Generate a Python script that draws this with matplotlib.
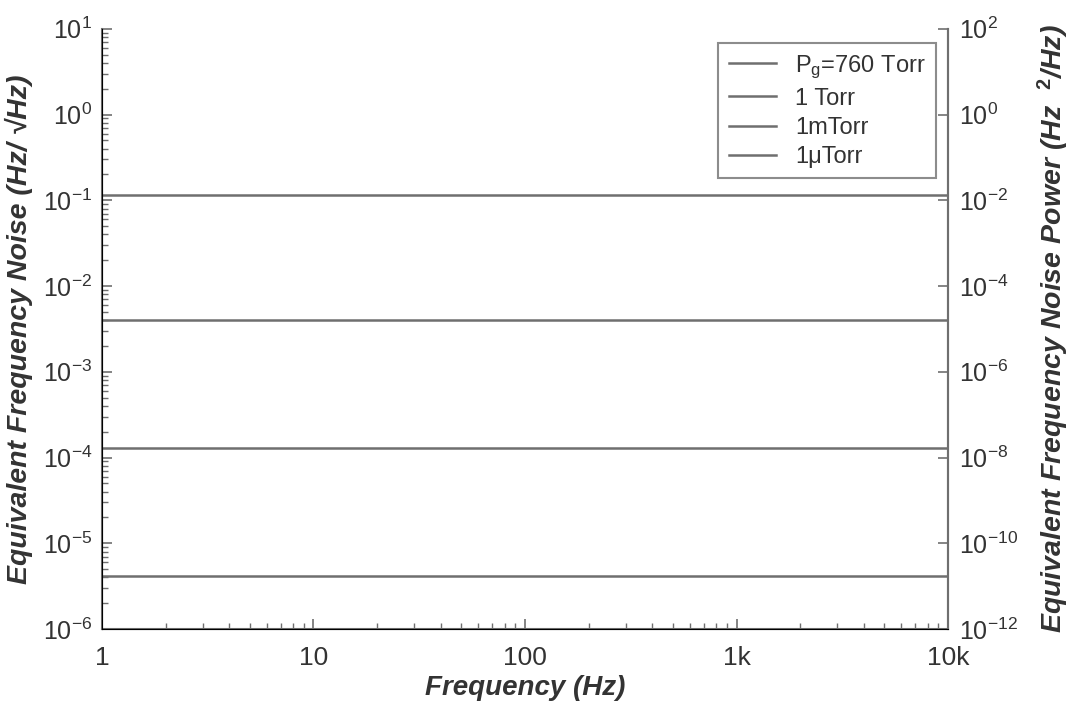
import matplotlib
matplotlib.use("Agg")
import matplotlib.pyplot as plt
import numpy as np
from matplotlib.ticker import FixedLocator, FixedFormatter, LogLocator, NullFormatter

plt.rcParams["font.family"] = ["Liberation Sans", "DejaVu Sans"]
plt.rcParams["mathtext.fontset"] = "custom"
plt.rcParams["mathtext.rm"] = "Liberation Sans"
plt.rcParams["mathtext.it"] = "Liberation Sans:italic"
plt.rcParams["mathtext.bf"] = "Liberation Sans:bold"

# frequency span of the flat noise floors
freq = [1, 10000]
labels = ["P$_\\mathregular{g}$=760 Torr", "1 Torr", "1mTorr", "1\u03bcTorr"]
noise = [0.115, 4.0e-3, 1.3e-4, 4.2e-6]

x_ticks = [1, 10, 100, 1000, 10000]
x_ticklabels = ["1", "10", "100", "1k", "10k"]
left_ticks = [1e1, 1e0, 1e-1, 1e-2, 1e-3, 1e-4, 1e-5, 1e-6]
left_ticklabels = ["10$^{1}$", "10$^{0}$", "10$^{-1}$", "10$^{-2}$",
                   "10$^{-3}$", "10$^{-4}$", "10$^{-5}$", "10$^{-6}$"]
right_ticks = [1e2, 1e0, 1e-2, 1e-4, 1e-6, 1e-8, 1e-10, 1e-12]
right_ticklabels = ["10$^{2}$", "10$^{0}$", "10$^{-2}$", "10$^{-4}$",
                    "10$^{-6}$", "10$^{-8}$", "10$^{-10}$", "10$^{-12}$"]

GRAY = "#6f6f6f"
TXT = "#333333"

fig = plt.figure(figsize=(10.71, 7.02), dpi=100)
ax = fig.add_axes([0.0952, 0.104, 0.790, 0.855])

for val, lab in zip(noise, labels):
    ax.plot(freq, [val, val], color=GRAY, lw=1.8, label=lab)

ax.set_xscale("log")
ax.set_yscale("log")
ax.set_xlim(1, 10000)
ax.set_ylim(1e-6, 1e1)

ax.xaxis.set_major_locator(FixedLocator(x_ticks))
ax.xaxis.set_major_formatter(FixedFormatter(x_ticklabels))
ax.xaxis.set_minor_locator(LogLocator(base=10, subs=np.arange(2, 10)))
ax.xaxis.set_minor_formatter(NullFormatter())
ax.yaxis.set_major_locator(FixedLocator(left_ticks))
ax.yaxis.set_major_formatter(FixedFormatter(left_ticklabels))
ax.yaxis.set_minor_locator(LogLocator(base=10, subs=np.arange(2, 10)))
ax.yaxis.set_minor_formatter(NullFormatter())

ax.tick_params(which="both", direction="in", colors=GRAY, labelcolor=TXT,
               labelsize=18, right=False, top=False)
ax.tick_params(which="major", length=7, width=1.2)
ax.tick_params(which="minor", length=4, width=1.0)
ax.tick_params(axis="x", pad=12, labelsize=19)
ax.tick_params(axis="y", pad=7)

ax.spines["top"].set_visible(False)
for s in ["left", "bottom", "right"]:
    ax.spines[s].set_color(GRAY)
    ax.spines[s].set_linewidth(1.5)

ax.set_xlabel("Frequency (Hz)", fontsize=20, fontweight="bold", style="italic",
              color=TXT, labelpad=4)
ax.set_ylabel("Equivalent Frequency Noise (Hz/ \u221aHz)", fontsize=20.5,
              fontweight="bold", style="italic", color=TXT)
ax.yaxis.set_label_coords(-0.082, 0.5)

ax2 = ax.twinx()
ax2.set_yscale("log")
ax2.set_ylim(1e-12, 1e2)
ax2.yaxis.set_major_locator(FixedLocator(right_ticks))
ax2.yaxis.set_major_formatter(FixedFormatter(right_ticklabels))
ax2.yaxis.set_minor_locator(FixedLocator([]))
ax2.tick_params(which="major", direction="in", length=7, width=1.2,
                colors=GRAY, labelcolor=TXT, labelsize=18, pad=8)
ax2.spines["top"].set_visible(False)
ax2.spines["right"].set_color(GRAY)
ax2.spines["right"].set_linewidth(1.5)
ax2.set_ylabel("Equivalent Frequency Noise Power (Hz  $^{\\mathbf{2}}$/Hz)", fontsize=20.5,
               fontweight="bold", style="italic", color=TXT)
ax2.yaxis.set_label_coords(1.104, 0.5)

leg = ax.legend(loc="upper right", bbox_to_anchor=(0.986, 0.977), fontsize=17,
                frameon=True, fancybox=False, handlelength=2.0, handletextpad=0.8,
                labelspacing=0.3, borderpad=0.45, borderaxespad=0)
leg.get_frame().set_edgecolor(GRAY)
leg.get_frame().set_linewidth(1.5)
for t in leg.get_texts():
    t.set_color(TXT)

fig.savefig("out.png", dpi=100)
